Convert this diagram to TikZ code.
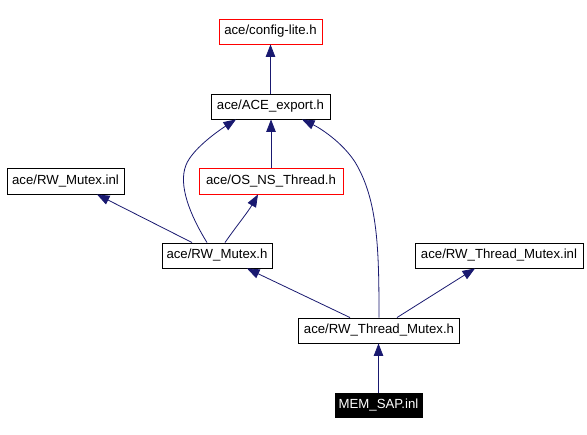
\documentclass[tikz,border=0pt]{standalone}
\usepackage{fontspec}
\setmainfont{Liberation Sans}
\usetikzlibrary{calc,arrows.meta}
\definecolor{edgeblue}{HTML}{191970}
\begin{document}
\begin{tikzpicture}[x=1pt,y=-1pt,
  box/.style={draw=black,line width=0.9pt,fill=white,inner sep=0pt,font=\fontsize{13.2}{15}\selectfont,text=black},
  redbox/.style={box,draw=red},
  blackbox/.style={box,fill=black,text=white},
  edge/.style={draw=edgeblue,line width=0.8pt,-{Triangle[length=12.5pt,width=9.5pt]}}]
\useasboundingbox[fill=white] (0,0) rectangle (587,435);
\node[redbox,minimum width=103pt,minimum height=25pt] (cfg) at (270.5,31.5) {ace/config-lite.h};
\node[box,minimum width=119pt,minimum height=25pt] (ace) at (270.5,106.5) {ace/ACE\_export.h};
\node[redbox,minimum width=144pt,minimum height=26pt] (os) at (271,181) {ace/OS\_NS\_Thread.h};
\node[box,minimum width=117pt,minimum height=26pt] (rmi) at (65.5,181) {ace/RW\_Mutex.inl};
\node[box,minimum width=110pt,minimum height=25pt] (rwm) at (217,255.5) {ace/RW\_Mutex.h};
\node[box,minimum width=168pt,minimum height=25pt] (rtmi) at (499,255.5) {ace/RW\_Thread\_Mutex.inl};
\node[box,minimum width=161pt,minimum height=25pt] (rtm) at (379,330.5) {ace/RW\_Thread\_Mutex.h};
\node[blackbox,minimum width=87pt,minimum height=24pt] (mem) at (378.5,405.5) {MEM\_SAP.inl};
\draw[edge] (ace.north) -- (cfg.south);
\draw[edge] (os.north) -- (os.north |- ace.south);
\draw[edge] ($(rwm.north)+(-10,0)$) .. controls (190,215) and (178,185) .. (186,165) .. controls (192,150) and (215,133) .. ($(ace.south)+(-34.5,0)$);
\draw[edge] ($(rwm.north)+(8,0)$) .. controls (235,228) and (248,212) .. ($(os.south)+(-13,0)$);
\draw[edge] ($(rwm.north)+(-25,0)$) -- ($(rmi.south)+(31.5,0)$);
\draw[edge] ($(rtm.north)+(-29,0)$) -- ($(rwm.south)+(30,0)$);
\draw[edge] (rtm.north) .. controls (379,250) and (378,200) .. (355,162) .. controls (342,142) and (320,128) .. ($(ace.south)+(31.5,0)$);
\draw[edge] ($(rtm.north)+(18,0)$) -- ($(rtmi.south)+(-24,0)$);
\draw[edge] (mem.north) -- (mem.north |- rtm.south);
\end{tikzpicture}
\end{document}
